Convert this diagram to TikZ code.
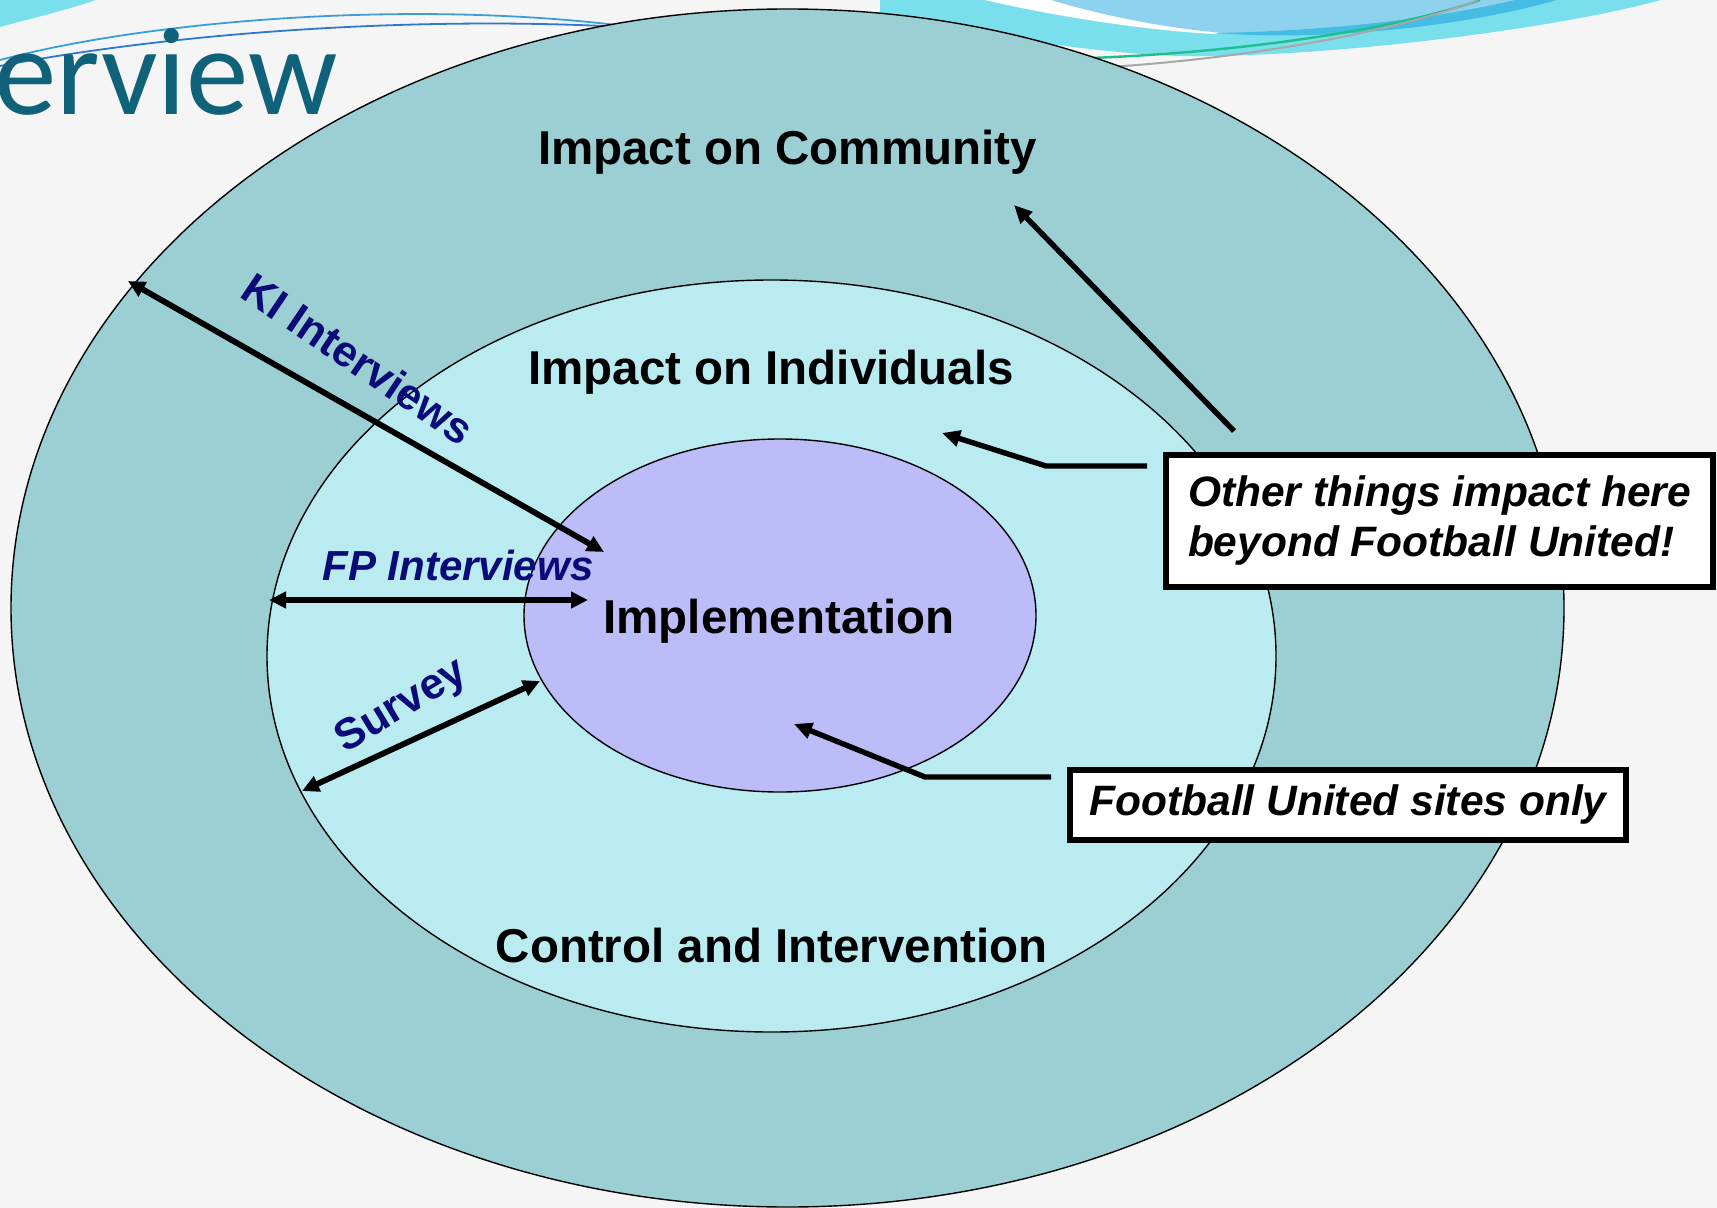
\documentclass[tikz,border=0pt]{standalone}
\usepackage{fontspec}
\setmainfont{Liberation Sans}
\newfontfamily\titlefont{Carlito}
\usetikzlibrary{shapes.geometric,arrows.meta}
\definecolor{bgc}{HTML}{F5F5F5}
\definecolor{outerc}{HTML}{9CCFD4}
\definecolor{midc}{HTML}{BAEBF0}
\definecolor{innerc}{HTML}{BBBCF8}
\definecolor{navyc}{HTML}{0A0A78}
\definecolor{titlec}{HTML}{10617A}
\definecolor{cyanband}{HTML}{7ADFEC}
\definecolor{skyband}{HTML}{8ED2F0}
\definecolor{deepband}{HTML}{45BCE4}
\definecolor{greenline}{HTML}{1DBF8C}
\definecolor{greyline}{HTML}{A8A8A8}
\definecolor{blueline}{HTML}{3A9FD8}
\definecolor{blueline2}{HTML}{2F78D0}
\begin{document}
\begin{tikzpicture}[x=0.5pt,y=-0.5pt,
  ring/.style={ellipse,draw=black,line width=0.7pt,inner sep=0pt,outer sep=0pt},
  biglabel/.style={font=\bfseries\fontsize{23.75pt}{28pt}\selectfont,inner sep=0pt,anchor=base},
  methodlabel/.style={font=\bfseries\fontsize{21.75pt}{26pt}\selectfont,text=navyc,inner sep=0pt},
  callout/.style={draw=black,line width=2.8pt,fill=white,inner sep=0pt,outer sep=0pt},
  calltext/.style={font=\bfseries\itshape\fontsize{21.25pt}{25pt}\selectfont},
  twoway/.style={line width=2.9pt,arrows={Triangle[length=8.5pt,width=8pt]-Triangle[length=8.5pt,width=8pt]}},
  oneway/.style={line width=2.7pt,arrows={-Triangle[length=9pt,width=8pt]}},
]
% background
\fill[bgc] (0,0) rectangle (1717,1208);
\useasboundingbox (0,0) rectangle (1717,1208);

% decorative swooshes (template)
\fill[cyanband] (0,0) -- (96,0) .. controls (60,12) and (25,20) .. (0,27) -- cycle;
\draw[blueline,line width=0.9pt] (0,60) .. controls (150,20) and (420,-2) .. (640,28);
\draw[blueline2,line width=0.9pt] (0,66) .. controls (200,28) and (450,16) .. (640,28);

\fill[cyanband] (880,0) -- (1661,0) .. controls (1560,28) and (1330,58) .. (1181,56)
  .. controls (1100,54) and (980,35) .. (880,15) -- cycle;
\fill[white] (985,0) .. controls (1080,22) and (1170,32) .. (1215,34) -- (1300,0) -- cycle;
\fill[skyband] (1051,0) .. controls (1110,18) and (1180,30) .. (1225,33)
  .. controls (1350,35) and (1480,15) .. (1557,0) -- cycle;
\fill[deepband] (1215,33) .. controls (1330,42) and (1470,25) .. (1557,0) -- (1515,0)
  .. controls (1440,18) and (1330,31) .. (1215,33) -- cycle;
\draw[greenline,line width=1.2pt] (1090,58) .. controls (1250,52) and (1400,28) .. (1480,0);
\draw[greyline,line width=1pt] (1110,67) .. controls (1260,57) and (1400,30) .. (1478,0);

% title fragment
\node[font=\titlefont\fontsize{62.5pt}{70pt}\selectfont,text=titlec,anchor=base west,inner sep=0pt] (title) at (-6,115) {erview};

% rings
\node[ring,fill=outerc,minimum width=776.5pt,minimum height=599pt] (outer) at (787.5,608) {};
\node[ring,fill=midc,minimum width=504.5pt,minimum height=376pt] (middle) at (771.5,656) {};
\node[ring,fill=innerc,minimum width=256pt,minimum height=176.5pt] (inner) at (780,615.5) {};

% ring labels
\node[biglabel] (community) at (787.5,165) {Impact on Community};
\node[biglabel] (individuals) at (771,385) {Impact on Individuals};
\node[biglabel] (implementation) at (779,633) {Implementation};
\node[biglabel] (control) at (771.5,962) {Control and Intervention};

% method labels
\node[methodlabel,rotate=-34] (ki) at (358,359) {KI Interviews};
\node[methodlabel,font=\bfseries\itshape\fontsize{21pt}{25pt}\selectfont,anchor=base] (fp) at (458,580) {FP Interviews};
\node[methodlabel,rotate=31] (survey) at (402,707) {Survey};

% connector end points
\coordinate (kiOut) at (128,281);
\coordinate (kiIn) at (604,552);
\coordinate (fpOut) at (269,600);
\coordinate (fpIn) at (588,600);
\coordinate (svOut) at (302,791);
\coordinate (svIn) at (540,681);
\coordinate (commTip) at (1014,205);
\coordinate (commTail) at (1234,431);
\coordinate (indTip) at (942,433);
\coordinate (indBend) at (1046,466);
\coordinate (indTail) at (1147,466);
\coordinate (impTip) at (794,724);
\coordinate (impBend) at (925,777);
\coordinate (impTail) at (1051,777);

% arrows
\draw[twoway] (kiOut) -- (kiIn);
\draw[twoway] (fpOut) -- (fpIn);
\draw[twoway] (svOut) -- (svIn);
\draw[oneway] (commTail) -- (commTip);
\draw[oneway] (indTail) -- (indBend) -- (indTip);
\draw[oneway] (impTail) -- (impBend) -- (impTip);

% callout boxes
\node[callout,calltext,align=left,minimum width=273.5pt,minimum height=66pt] (otherbox) at (1439.5,521)
  {Other things impact here\\beyond Football United!};
\node[callout,calltext,minimum width=278pt,minimum height=35pt] (sitesbox) at (1348,805)
  {Football United sites only};
\end{tikzpicture}
\end{document}
